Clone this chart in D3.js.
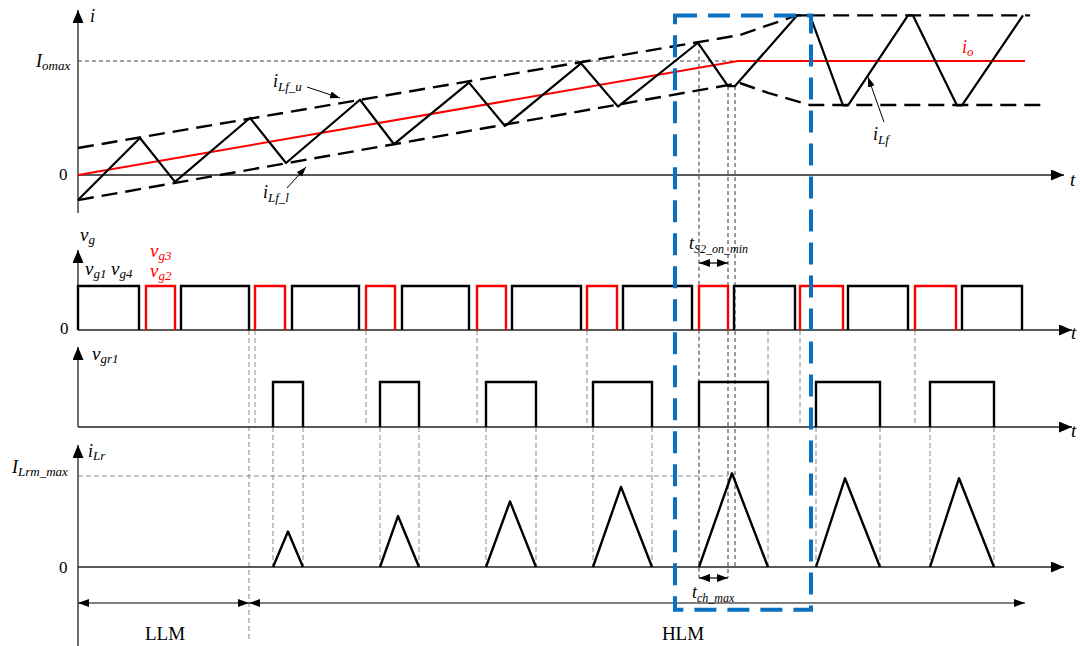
<!DOCTYPE html>
<html><head><meta charset="utf-8">
<script src="https://cdn.jsdelivr.net/npm/d3@7"></script>
<style>body{margin:0;background:#fff}svg{display:block}</style>
</head><body><svg id="c" width="1080" height="646"></svg>
<script>
// ---------------- data (time in arbitrary units, currents normalised) ----------------
// top panel: filter inductor current iLf (t, i/Iomax)
const iLf = [[0,-0.22],[62,0.325],[97,-0.06],[172,0.5],[208,0.105],[282,0.66],[316,0.27],[391,0.81],[427,0.43],[503,0.98],[540,0.6],[620,1.16],[650,0.78],[657,0.78],[719,1.4],[732,1.4],[765,0.61],[770,0.61],[830,1.4],[835,1.4],[879,0.61],[884,0.61],[945,1.4]];
const iLfUpper = [[0,0.237],[662,1.228],[682,1.29],[719,1.4],[952,1.4]];
const iLfLower = [[0,-0.22],[662,0.807],[690,0.72],[732,0.614],[969,0.614]];
const io = [[0,0],[660,1],[947,1]];
const iomaxEnd = 660;
// gate signals vg1/vg4 (black) and vg3/vg2 (red): [on, off]
const vgBlack = [[0,61],[103,171],[214,281],[324,391],[434,503],[545,614],[656,717],[770,830],[884,944]];
const vgRed = [[68,97],[177,207],[288,317],[399,428],[509,539],[621,650],[722,765],[837,878]];
// auxiliary gate vgr1: [on, off]
const vgr1 = [[195,225],[302,341],[408,458],[515,574],[621,690],[738,802],[852,916]];
// resonant current iLr peaks (time of peak, peak / ILrm_max)
const iLrPeakT = [210,320,432,543,654,767,881];
const iLrPeak = [0.39,0.56,0.72,0.88,1.03,0.975,0.975];
const iLrmEnd = 650;
// guide lines
const guideVgToVgr = [177,288,399,509,722,837];
const guideVgrToLr = [195,225,302,341,408,458,515,574,738,802,852,916];
const modeBoundary = 171;
const hlmEnd = 947;
const tS2 = [621,650];
const tch = [621,650];
const dimGuideB = 657;
const zoomBox = [597,733];

// ---------------- layout ----------------
const svg = d3.select("#c");
const x = d3.scaleLinear().domain([0,984]).range([78,1062]);
const yI = d3.scaleLinear().domain([0,1]).range([175,61]);
const yG = d3.scaleLinear().domain([0,1]).range([330,286]);
const yR = d3.scaleLinear().domain([0,1]).range([427,382]);
const yL = d3.scaleLinear().domain([0,1]).range([567,476]);
const AX = 78;
const serif = "'Liberation Serif','Times New Roman',serif";

const defs = svg.append("defs");
function marker(id, L, Wd, color){
  defs.append("marker").attr("id",id).attr("viewBox",`0 0 ${L} ${Wd}`)
    .attr("refX",L).attr("refY",Wd/2).attr("markerWidth",L).attr("markerHeight",Wd)
    .attr("markerUnits","userSpaceOnUse").attr("orient","auto-start-reverse")
    .append("path").attr("d",`M0,0L${L},${Wd/2}L0,${Wd}Z`).attr("fill",color);
}
marker("ax",13,11,"#000");
marker("sm",10,7,"#000");
marker("dim",11,8,"#000");

const line = d3.line().x(d=>x(d[0]));
const g = svg.append("g");

// ---- guides
function vguide(t, y1, y2, color, dash){
  g.append("line").attr("x1",x(t)).attr("x2",x(t)).attr("y1",y1).attr("y2",y2)
    .attr("stroke",color).attr("stroke-width",1).attr("stroke-dasharray",dash);
}
guideVgToVgr.forEach(t=>vguide(t,yG(0),yR(0),"#8a8a8a","5,3"));
guideVgrToLr.forEach(t=>vguide(t,yR(0),yL(0),"#8a8a8a","5,3"));
vguide(modeBoundary,yG(0),640,"#8a8a8a","5,3");
vguide(vgr1[4][1],yG(0),yL(0),"#8a8a8a","5,3");
vguide(tS2[0],yI(1.16),yL(-0.12),"#333","4,3");
vguide(tS2[1],yI(0.78),yL(-0.12),"#333","4,3");
vguide(dimGuideB,yI(0.78),yL(0),"#333","4,3");
// horizontal reference lines
g.append("line").attr("x1",AX).attr("x2",x(iomaxEnd)).attr("y1",yI(1)).attr("y2",yI(1))
  .attr("stroke","#444").attr("stroke-width",1).attr("stroke-dasharray","4,3");
g.append("line").attr("x1",AX).attr("x2",x(iLrmEnd)).attr("y1",yL(1)).attr("y2",yL(1))
  .attr("stroke","#8a8a8a").attr("stroke-width",1.1).attr("stroke-dasharray","5,3");

// ---- axes
function axis(base, top, bottom, right){
  g.append("line").attr("x1",AX).attr("x2",AX).attr("y1",bottom).attr("y2",top)
    .attr("stroke","#222").attr("stroke-width",1.3).attr("marker-end","url(#ax)");
  g.append("line").attr("x1",AX).attr("x2",right).attr("y1",base).attr("y2",base)
    .attr("stroke","#222").attr("stroke-width",1.3).attr("marker-end","url(#ax)");
}
axis(yI(0),10,213,1064);
axis(yG(0),250,yG(0),1072);
axis(yR(0),347,yR(0),1072);
axis(yL(0),445,646,1064);

// ---- top panel
g.append("path").attr("d",line.y(d=>yI(d[1]))(io)).attr("fill","none").attr("stroke","#ff0000").attr("stroke-width",2);
[iLfUpper,iLfLower].forEach(a=>g.append("path").attr("d",line.y(d=>yI(d[1]))(a))
  .attr("fill","none").attr("stroke","#000").attr("stroke-width",2.4).attr("stroke-dasharray","16,8"));
g.append("path").attr("d",line.y(d=>yI(d[1]))(iLf)).attr("fill","none").attr("stroke","#000")
  .attr("stroke-width",2.2).attr("stroke-linejoin","round");

// ---- gate pulses
function pulses(arr, ys, color){
  g.selectAll(null).data(arr).enter().append("path")
    .attr("d",d=>`M${x(d[0])},${ys(0)}V${ys(1)}H${x(d[1])}V${ys(0)}`)
    .attr("fill","none").attr("stroke",color).attr("stroke-width",2.4).attr("stroke-linejoin","miter");
}
pulses(vgBlack,yG,"#000");
pulses(vgRed,yG,"#ff0000");
pulses(vgr1,yR,"#000");

// ---- iLr triangles
g.selectAll(null).data(vgr1).enter().append("path")
  .attr("d",(d,i)=>line.y(p=>yL(p[1]))([[d[0],0],[iLrPeakT[i],iLrPeak[i]],[d[1],0]]))
  .attr("fill","none").attr("stroke","#000").attr("stroke-width",2.4).attr("stroke-linejoin","round");

// ---- dimension arrows
function dimArrow(x1,x2,y){
  g.append("line").attr("x1",x1).attr("x2",x2).attr("y1",y).attr("y2",y).attr("stroke","#000").attr("stroke-width",1.2)
    .attr("marker-start","url(#dim)").attr("marker-end","url(#dim)");
}
dimArrow(x(tS2[0]),x(tS2[1]),263);
dimArrow(x(tch[0]),x(tch[1]),578);
dimArrow(AX,x(modeBoundary),603);
dimArrow(x(modeBoundary),x(hlmEnd),603);

// label pointer arrows
function ptr(x1,y1,x2,y2){
  g.append("line").attr("x1",x1).attr("y1",y1).attr("x2",x2).attr("y2",y2)
    .attr("stroke","#000").attr("stroke-width",1).attr("marker-end","url(#sm)");
}
ptr(307,87,340,98);
ptr(287,188,306,167);
ptr(884,122,868,77);

// ---- zoom box
g.append("rect").attr("x",x(zoomBox[0])).attr("y",yI(1.4)).attr("width",x(zoomBox[1])-x(zoomBox[0]))
  .attr("height",yL(-0.47)-yI(1.4)).attr("fill","none").attr("stroke","#0a70c2").attr("stroke-width",4)
  .attr("stroke-dasharray","22,11");

// ---- texts
function lbl(px, py, main, sub, o={}){
  const t = g.append("text").attr("x",px).attr("y",py).attr("font-family",serif)
    .attr("fill",o.color||"#000").attr("font-size",o.size||18);
  t.append("tspan").text(main).attr("font-style",o.upright?"normal":"italic");
  if(sub){ t.append("tspan").text(sub).attr("font-style","italic").attr("font-size",o.subSize||12).attr("dy",o.dy||4); }
  return t;
}
lbl(90,22,"i");
lbl(36,67,"I","omax",{size:18,subSize:13,dy:3});
lbl(59,180,"0",null,{upright:true,size:17});
lbl(1070,186,"t",null,{size:19});
lbl(962,53,"i","o",{color:"#ff0000",size:18,subSize:13,dy:3});
lbl(273,87,"i","Lf_u",{size:18,subSize:13,dy:4});
lbl(263,198,"i","Lf_l",{size:18,subSize:13,dy:4});
lbl(873,140,"i","Lf",{size:18,subSize:13,dy:4});
lbl(80,241,"v","g",{size:19,subSize:13,dy:3});
lbl(85,275,"v","g1",{size:19,subSize:13,dy:3});
lbl(111,275,"v","g4",{size:19,subSize:13,dy:3});
lbl(150,257,"v","g3",{size:19,subSize:13,dy:3,color:"#ff0000"});
lbl(150,277,"v","g2",{size:19,subSize:13,dy:3,color:"#ff0000"});
lbl(60,334,"0",null,{upright:true,size:17});
lbl(1071,339,"t",null,{size:19});
lbl(92,360,"v","gr1",{size:19,subSize:13,dy:3});
lbl(1071,437,"t",null,{size:19});
lbl(689,249,"t","S2_on_min",{size:18,subSize:12,dy:4});
lbl(88,457,"i","Lr",{size:18,subSize:13,dy:3});
lbl(12,473,"I","Lrm_max",{size:18,subSize:13,dy:3});
lbl(59,573,"0",null,{upright:true,size:17});
lbl(692,598,"t","ch_max",{size:18,subSize:12,dy:4});
g.append("text").attr("x",165).attr("y",640).attr("text-anchor","middle").attr("font-family",serif).attr("font-size",19).text("LLM");
g.append("text").attr("x",683).attr("y",640).attr("text-anchor","middle").attr("font-family",serif).attr("font-size",19).text("HLM");
</script></body></html>
